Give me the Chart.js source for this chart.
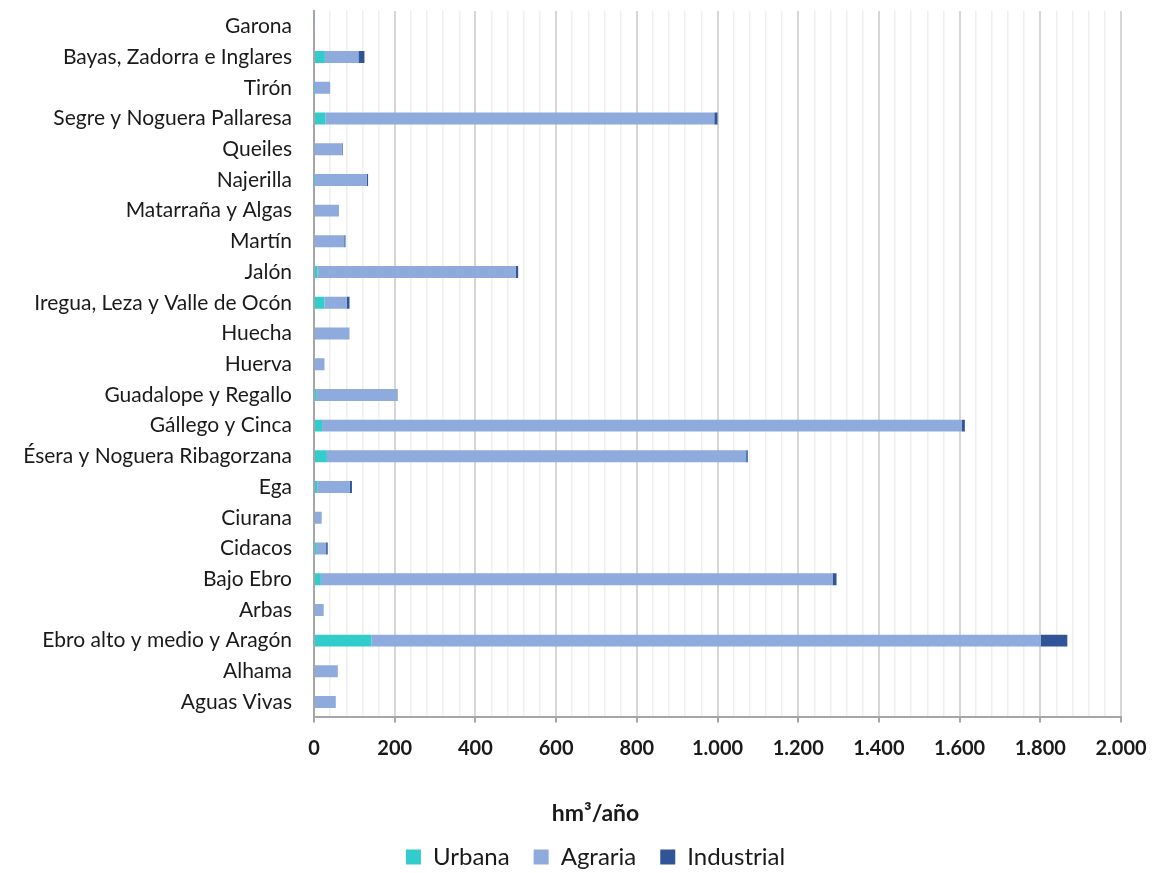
<!DOCTYPE html>
<html>
<head>
<meta charset="utf-8">
<script src="https://cdn.jsdelivr.net/npm/chart.js@4.4.1/dist/chart.umd.min.js"></script>
<style>
  html, body { margin: 0; padding: 0; background: #fff; }
  #wrap { width: 1156px; height: 873px; }
</style>
</head>
<body>
<div id="wrap"><canvas id="demandChart"></canvas></div>
<script>
// Categories, top to bottom as in the chart
const labels = [
    'Garona', 'Bayas, Zadorra e Inglares', 'Tirón', 'Segre y Noguera Pallaresa',
    'Queiles', 'Najerilla', 'Matarraña y Algas', 'Martín', 'Jalón',
    'Iregua, Leza y Valle de Ocón', 'Huecha', 'Huerva', 'Guadalope y Regallo',
    'Gállego y Cinca', 'Ésera y Noguera Ribagorzana', 'Ega', 'Ciurana', 'Cidacos',
    'Bajo Ebro', 'Arbas', 'Ebro alto y medio y Aragón', 'Alhama', 'Aguas Vivas'
];

// hm3/año per use
const urbana     = [0, 27, 1, 28, 2, 1, 0, 0, 9, 26, 0, 0, 7, 20, 32, 8, 0, 7, 17, 0, 142, 0, 0];
const agraria    = [1, 83, 39, 964, 67, 130, 62, 75, 491, 55, 88, 26, 199, 1586, 1039, 81, 19, 23, 1268, 24, 1659, 59, 54];
const industrial = [0, 15, 0, 8, 2, 3, 0, 3, 6, 7, 0, 0, 1, 7, 4, 5, 0, 4, 10, 0, 66, 0, 0];

const xMin = 0;
const xMax = 2000;
const xMajorStep = 200;
const xMinorStep = 40;

const FONT = "Lato, 'Open Sans', sans-serif";
const TEXT = '#1a1a1a';
const PAD_LEFT = 70;   // shifts legend/title centre to the right like the original
const AXIS_LEFT = 314; // x pixel of the value axis

function fmtThousands(v) {
    return String(v).replace(/\B(?=(\d{3})+(?!\d))/g, '.');
}

// let the long category names run into the left padding instead of being clipped
const unclipLabels = {
    id: 'unclipLabels',
    afterLayout(chart) {
        chart.scales.y.left = 0;
    }
};

const ctx = document.getElementById('demandChart').getContext('2d');

new Chart(ctx, {
    type: 'bar',
    data: {
        labels: labels,
        datasets: [
            { label: 'Urbana', data: urbana, backgroundColor: '#33CCCC' },
            { label: 'Agraria', data: agraria, backgroundColor: '#8FAADC' },
            { label: 'Industrial', data: industrial, backgroundColor: '#2F5597' }
        ]
    },
    plugins: [unclipLabels],
    options: {
        indexAxis: 'y',
        responsive: true,
        maintainAspectRatio: false,
        animation: false,
        datasets: {
            bar: {
                categoryPercentage: 1.0,
                barPercentage: 0.39,
                borderWidth: 0
            }
        },
        layout: {
            padding: { left: PAD_LEFT, right: 35, top: 11, bottom: -6 }
        },
        plugins: {
            title: {
                display: true,
                text: 'hm³/año',
                position: 'bottom',
                weight: 500,
                color: TEXT,
                font: { family: FONT, size: 23, weight: 'bold' },
                padding: { top: 0, bottom: -6 }
            },
            legend: {
                position: 'bottom',
                weight: 1000,
                labels: {
                    color: TEXT,
                    font: { family: FONT, size: 24 },
                    boxWidth: 15,
                    boxHeight: 15,
                    padding: 24
                }
            },
            tooltip: { enabled: false }
        },
        scales: {
            x: {
                stacked: true,
                min: xMin,
                max: xMax,
                afterFit: function(scale) {
                    scale.height = 82;
                    scale.paddingLeft = 0;
                    scale.paddingRight = 0;
                },
                ticks: {
                    stepSize: xMinorStep,
                    autoSkip: false,
                    maxRotation: 0,
                    color: TEXT,
                    padding: 14,
                    font: { family: FONT, size: 20, weight: 'bold' },
                    callback: function(value) {
                        return value % xMajorStep === 0 ? fmtThousands(value) : '';
                    }
                },
                grid: {
                    color: function(c) {
                        return c.tick && c.tick.value % xMajorStep === 0 ? '#d6d6d6' : '#efefef';
                    },
                    lineWidth: function(c) {
                        return c.tick && c.tick.value % xMajorStep === 0 ? 2 : 1.5;
                    },
                    tickColor: function(c) {
                        return c.tick && c.tick.value % xMajorStep === 0 ? '#a6a6a6' : 'rgba(0,0,0,0)';
                    },
                    tickLength: 5
                },
                border: { display: true, color: '#a6a6a6', width: 2 }
            },
            y: {
                stacked: true,
                afterFit: function(scale) {
                    scale.width = AXIS_LEFT - PAD_LEFT;
                    scale.paddingTop = 0;
                    scale.paddingBottom = 0;
                },
                grid: { display: false, drawTicks: false },
                border: { display: true, color: '#a6a6a6', width: 2 },
                ticks: {
                    color: TEXT,
                    padding: 22,
                    autoSkip: false,
                    font: { family: FONT, size: 21 }
                }
            }
        }
    }
});
</script>
</body>
</html>
